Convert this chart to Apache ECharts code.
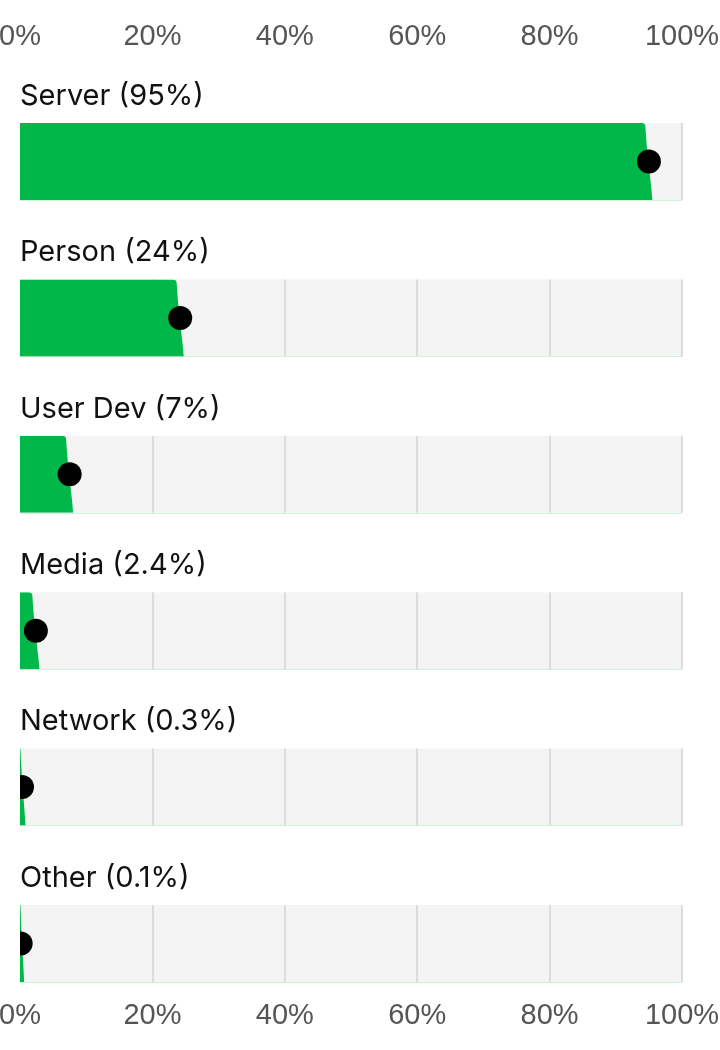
<!DOCTYPE html>
<html>
<head>
<meta charset="utf-8">
<script src="https://cdn.jsdelivr.net/npm/echarts@6/dist/echarts.min.js"></script>
<style>
html,body{margin:0;padding:0;background:#fff;}
#c{width:720px;height:1050px;}
</style>
</head>
<body>
<div id="c"></div>
<script>
// Data
var categories = ['Server', 'Person', 'User Dev', 'Media', 'Network', 'Other'];
var shareLabels = ['95%', '24%', '7%', '2.4%', '0.3%', '0.1%'];
var values = [95, 24.2, 7.5, 2.4, 0.3, 0.1];
var tickValues = [0, 20, 40, 60, 80, 100];
var tickLabels = ['0%', '20%', '40%', '60%', '80%', '100%'];

var TITLE_FONT = 'Inter, "Liberation Sans", Arial, sans-serif';
var TICK_FONT = '"Liberation Sans", Arial, sans-serif';
var GREEN = '#00b84a';
var bandTops = [123, 279.4, 435.8, 592.2, 748.6, 905];
var bandH = 77;

function tickFmt(v) {
  var i = tickValues.indexOf(v);
  return i >= 0 ? tickLabels[i] : '';
}

var grids = [], xAxes = [], yAxes = [], series = [], titles = [];

categories.forEach(function (cat, i) {
  grids.push({
    left: 20, right: 38, top: bandTops[i], height: bandH,
    outerBoundsMode: 'none', containLabel: false,
    show: true, backgroundColor: '#f4f4f4', borderWidth: 0
  });
  xAxes.push({
    type: 'value', gridIndex: i, min: 0, max: 100, interval: 20,
    axisLabel: { show: false },
    axisTick: { show: false },
    axisLine: { show: true, lineStyle: { color: '#cdf3d9', width: 1 } },
    splitLine: { show: true, showMinLine: false, lineStyle: { color: '#dcdcdc', width: 2 } }
  });
  yAxes.push({
    type: 'value', gridIndex: i, min: 0, max: 1, show: false
  });
  titles.push({
    text: cat + ' (' + shareLabels[i] + ')',
    left: 20, top: bandTops[i] - 43, padding: 0,
    textStyle: { fontFamily: TITLE_FONT, fontSize: 29, fontWeight: 'normal', color: '#111', lineHeight: 32 }
  });
  // green bar with softly curved end
  series.push({
    type: 'custom', xAxisIndex: i, yAxisIndex: i, clip: true, z: 3,
    data: [[values[i]]],
    renderItem: function (params, api) {
      var v = api.value(0);
      var p0 = api.coord([0, 1]);
      var p1 = api.coord([v, 0]);
      var x0 = p0[0], top = p0[1], bot = p1[1], xv = p1[0];
      var d = 3.5;
      var xt = Math.max(x0 + 0.5, xv - d);
      var xb = Math.max(x0 + 1.5, xv + d);
      var r = Math.min(4, Math.max(0, xt - x0));
      var h = bot - top;
      var path = 'M' + x0 + ' ' + top +
        ' L' + (xt - r) + ' ' + top +
        ' Q' + xt + ' ' + top + ' ' + xt + ' ' + (top + r) +
        ' C' + (xt + 0.3 * (xb - xt)) + ' ' + (top + h * 0.5) + ' ' + (xb - 0.1 * (xb - xt)) + ' ' + (top + h * 0.8) + ' ' + xb + ' ' + bot +
        ' L' + x0 + ' ' + bot + ' Z';
      return {
        type: 'path',
        shape: { pathData: path },
        style: { fill: GREEN }
      };
    }
  });
  // black dot at the value (clipped to the band)
  series.push({
    type: 'custom', xAxisIndex: i, yAxisIndex: i, clip: true, z: 5,
    data: [[values[i], 0.5]],
    renderItem: function (params, api) {
      var c = api.coord([api.value(0), api.value(1)]);
      return {
        type: 'circle',
        shape: { cx: c[0], cy: c[1], r: 12 },
        style: { fill: '#000' }
      };
    }
  });
});

// top tick labels
xAxes.push({
  type: 'value', gridIndex: 0, position: 'top', min: 0, max: 100, interval: 20,
  axisLine: { show: false }, axisTick: { show: false }, splitLine: { show: false },
  axisLabel: { show: true, formatter: tickFmt, margin: 86, verticalAlign: 'middle',
    fontFamily: TICK_FONT, fontSize: 29, color: '#555' }
});
// bottom tick labels
xAxes.push({
  type: 'value', gridIndex: 5, position: 'bottom', min: 0, max: 100, interval: 20,
  axisLine: { show: false }, axisTick: { show: false }, splitLine: { show: false },
  axisLabel: { show: true, formatter: tickFmt, margin: 34, verticalAlign: 'middle',
    fontFamily: TICK_FONT, fontSize: 29, color: '#555' }
});

var chart = echarts.init(document.getElementById('c'), null, { renderer: 'canvas' });
chart.setOption({
  animation: false,
  backgroundColor: '#fff',
  title: titles,
  grid: grids,
  xAxis: xAxes,
  yAxis: yAxes,
  series: series
});
</script>
</body>
</html>
